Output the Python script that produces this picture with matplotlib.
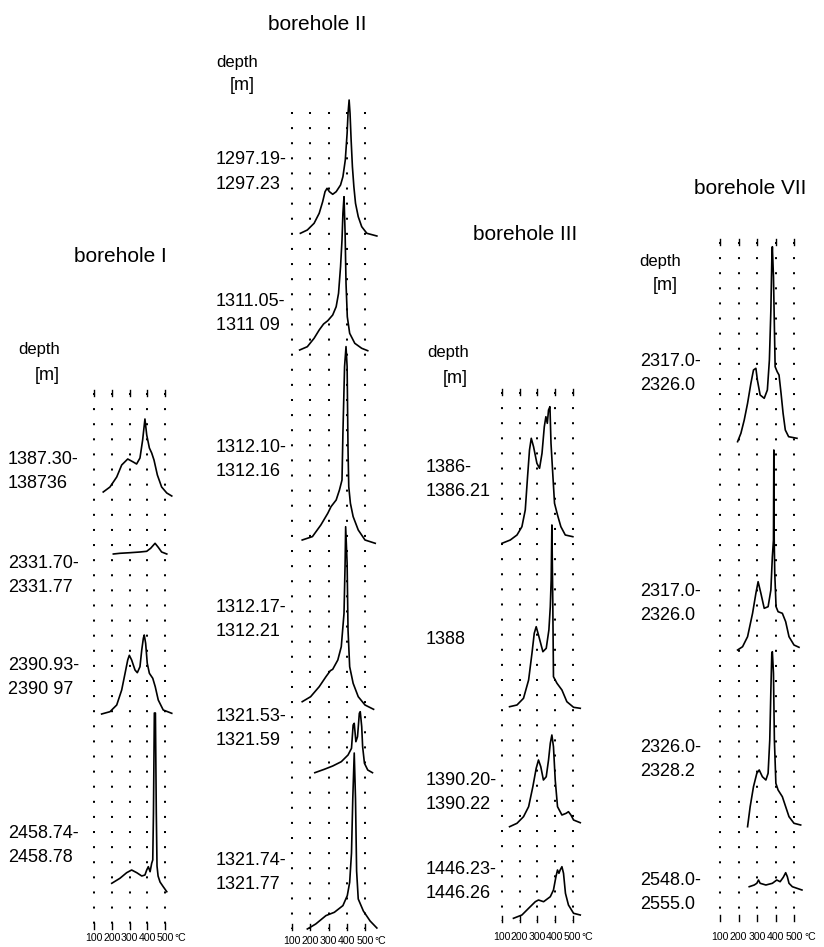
import matplotlib
matplotlib.use('Agg')
import matplotlib.pyplot as plt

W, H = 824, 947
fig = plt.figure(figsize=(W / 100, H / 100), dpi=100)

FONT = ['Liberation Sans', 'DejaVu Sans']
NARROW = ['Liberation Sans Narrow', 'Liberation Sans', 'DejaVu Sans']

# ---------------- data ----------------
grid_temps = [100, 200, 300, 400, 500]
tick_labels = ['100', '200', '300', '400', '500']
unit_label = '°C'
titles = ['borehole I', 'borehole II', 'borehole III', 'borehole VII']

# borehole I
I_depths = [('1387.30-', '138736'), ('2331.70-', '2331.77'),
            ('2390.93-', '2390 97'), ('2458.74-', '2458.78')]
I1_T = [152, 190, 228, 256, 290, 321, 340, 359, 374, 387, 397, 412, 425, 438, 457, 481, 510, 538]
I1_h = [4, 9, 19, 31, 37, 34, 32, 38, 56, 77, 61, 48, 43, 36, 21, 9, 3, 0]
I2_T = [209, 246, 303, 359, 397, 419, 444, 462, 481, 510]
I2_h = [0, 0.7, 1.3, 2, 2.7, 5.7, 10.7, 6.7, 2, 0]
I3_T = [143, 190, 228, 256, 275, 290, 299, 312, 331, 344, 359, 369, 378, 383, 391, 400, 412, 431, 445, 462, 490, 538]
I3_h = [0, 2.3, 9, 24, 40.7, 54, 58.7, 54, 44, 41.3, 47.3, 64, 75.7, 79, 70.7, 50.7, 40.7, 35.7, 27.3, 14, 4, 0.7]
I4_T = [200, 246, 284, 312, 341, 369, 387, 397, 406, 416, 425, 431, 435, 440, 446, 451, 455, 461, 472, 490, 510]
I4_h = [8.4, 13.4, 19, 21.7, 19, 15.7, 16.7, 21.7, 25, 20, 28.4, 31.7, 78.7, 178.7, 178.7, 78.7, 25.7, 15.7, 9.7, 5, 0]

# borehole II
II_depths = [('1297.19-', '1297.23'), ('1311.05-', '1311 09'), ('1312.10-', '1312.16'),
             ('1312.17-', '1312.21'), ('1321.53-', '1321.59'), ('1321.74-', '1321.77')]
II1_T = [146, 184, 221, 249, 268, 281, 292, 305, 323, 342, 366, 379, 392, 402, 407, 413, 418, 424, 431, 439, 448, 463, 482, 510, 565]
II1_h = [2.7, 6, 12.7, 22.7, 34.3, 44.3, 47.7, 44.3, 41.7, 44.3, 51, 59.3, 76, 102.7, 122.7, 136, 122.7, 96, 69.3, 49.3, 32.7, 19.3, 9.3, 2.7, 0]
II2_T = [142, 184, 221, 249, 273, 296, 323, 342, 355, 366, 374, 379, 385, 391, 396, 403, 416, 444, 482, 515]
II2_h = [1, 4.3, 12.7, 21, 27, 30.3, 36, 44.3, 57.7, 84.3, 111, 137.7, 154.3, 117.7, 67.7, 34.3, 17.7, 7.7, 2.7, 0.3]
II3_T = [156, 212, 258, 296, 314, 342, 360, 374, 379, 388, 396, 402, 407, 411, 420, 435, 463, 500, 556]
II3_h = [3.3, 6.7, 18.3, 30, 36.7, 43.3, 53.3, 63.3, 110, 176.7, 196.7, 176.7, 93.3, 56.6, 40, 26.7, 13.3, 3.3, 0]
II4_T = [156, 202, 249, 286, 310, 323, 351, 370, 385, 391, 394, 402, 407, 416, 435, 463, 500, 547]
II4_h = [7.6, 12.6, 22.6, 32.6, 38.6, 40, 49.3, 62.6, 96, 146, 182.6, 146, 79.3, 42.6, 26, 12.6, 4.3, 0]
II5_T = [225, 277, 323, 370, 407, 426, 435, 441, 450, 459, 469, 474, 482, 487, 497, 515, 541]
II5_h = [0, 3.4, 6.7, 11, 17.7, 24.4, 47.7, 49.4, 31, 36, 59.4, 61, 46, 26, 9.4, 2.7, 0]
II6_T = [184, 230, 286, 332, 379, 403, 416, 426, 433, 441, 448, 454, 463, 491, 528, 565]
II6_h = [0, 5, 13.4, 16.7, 23.4, 33.4, 46.7, 76, 130, 176, 130, 58, 30, 18, 8, 1]

# borehole III
III_depths = [('1386-', '1386.21'), ('1388', ''), ('1390.20-', '1390.22'), ('1446.23-', '1446.26')]
III1_T = [100, 147, 185, 213, 232, 245, 256, 266, 279, 298, 313, 327, 340, 349, 357, 364, 372, 378, 389, 398, 415, 434, 459, 502]
III1_h = [0, 3.3, 8.3, 16.6, 33.3, 66.6, 93.3, 105, 96.6, 80, 75, 90, 116.6, 126.6, 120, 133.3, 136.6, 100, 66.6, 40, 28.3, 16.6, 8.3, 6.6]
III2_T = [143, 185, 222, 251, 270, 283, 294, 307, 332, 351, 366, 374, 379, 383, 388, 392, 412, 440, 468, 506, 544]
III2_h = [1.6, 3.3, 10, 28.3, 55, 75, 81.6, 73.3, 56.6, 60, 78.3, 101.6, 128.3, 183.3, 108.3, 31.6, 25, 18.3, 6.6, 1, 0]
III3_T = [143, 185, 222, 251, 275, 294, 307, 320, 335, 351, 364, 374, 383, 392, 402, 415, 440, 464, 477, 491, 506, 544]
III3_h = [0, 3.4, 10, 20, 40, 58.4, 66.7, 60, 46.7, 50, 66.7, 83.4, 91.7, 80, 46.7, 20, 11.7, 13.4, 15, 11.7, 6.7, 4]
III4_T = [165, 213, 251, 289, 307, 336, 374, 392, 406, 415, 423, 430, 440, 449, 460, 477, 506, 544]
III4_h = [0, 3.3, 10, 16.6, 18.3, 16.6, 21.6, 28.3, 41.6, 48.3, 45, 48.3, 51.6, 45, 25, 13.3, 5, 3.3]

# borehole VII
VII_depths = [('2317.0-', '2326.0'), ('2317.0-', '2326.0'), ('2326.0-', '2328.2'), ('2548.0-', '2555.0')]
VII1_T = [195, 213, 231, 249, 267, 281, 294, 302, 317, 339, 356, 367, 375, 380, 383, 389, 394, 398, 409, 419, 430, 441, 453, 471, 516]
VII1_h = [0, 8.4, 21.7, 38.4, 58.4, 71.7, 73.4, 61.7, 46.7, 43.4, 51.7, 81.7, 131.7, 181.7, 195, 165, 115, 75, 70, 66.7, 48.4, 28.4, 11.7, 5, 3.4]
VII2_T = [195, 222, 249, 276, 294, 306, 321, 339, 360, 375, 383, 389, 391, 393, 396, 403, 414, 437, 455, 473, 500, 527]
VII2_h = [0, 3.3, 13.3, 36.7, 56.7, 68.3, 56.7, 41.7, 43.3, 60, 93.3, 110, 200, 110, 76.7, 43.3, 38.3, 36.7, 28.3, 13.3, 5, 2.7]
VII3_T = [249, 263, 281, 299, 312, 329, 348, 360, 369, 375, 380, 383, 389, 394, 402, 414, 437, 455, 473, 500, 536]
VII3_h = [0, 20, 40, 53.4, 56.7, 50, 46.7, 53.4, 86.7, 136.7, 173.4, 175, 153.4, 86.7, 43.4, 36.7, 30, 20, 10, 3.4, 1.7]
VII4_T = [258, 285, 299, 308, 317, 348, 383, 407, 425, 442, 455, 464, 473, 491, 516, 543]
VII4_h = [3.3, 5, 6.7, 10, 6.7, 5, 6.7, 10, 8.3, 12.7, 17.3, 13.3, 6.7, 3.3, 1.7, 0]

curves = [
    [(I1_T, I1_h), (I2_T, I2_h), (I3_T, I3_h), (I4_T, I4_h)],
    [(II1_T, II1_h), (II2_T, II2_h), (II3_T, II3_h), (II4_T, II4_h), (II5_T, II5_h), (II6_T, II6_h)],
    [(III1_T, III1_h), (III2_T, III2_h), (III3_T, III3_h), (III4_T, III4_h)],
    [(VII1_T, VII1_h), (VII2_T, VII2_h), (VII3_T, VII3_h), (VII4_T, VII4_h)],
]
depth_labels = [I_depths, II_depths, III_depths, VII_depths]

# ---------------- layout (pixels) ----------------
layout = [
    dict(px100=94, px500=165, top=393, bottom=928, tick_y=938, top_ticks=True,
         bases=[496, 554, 714, 891.7], label_x=8, label_y=[459, 563, 665, 833],
         title=(120, 257), depth=(39, 349), unit=(47, 376)),
    dict(px100=292, px500=365, top=112, bottom=929, tick_y=941, top_ticks=False,
         bases=[236, 351, 543.3, 709.3, 772.7, 929], label_x=216,
         label_y=[160, 302, 447, 608, 716, 860],
         title=(317, 24), depth=(237, 62), unit=(242, 86)),
    dict(px100=502, px500=572.5, top=392, bottom=921, tick_y=937, top_ticks=True,
         bases=[543.3, 708.3, 826.7, 918.3], label_x=426, label_y=[467, 640, 780, 869],
         title=(525, 234), depth=(448, 352), unit=(455, 378)),
    dict(px100=720, px500=794, top=242, bottom=920, tick_y=937, top_ticks=True,
         bases=[441.7, 650, 826.7, 890], label_x=640, label_y=[361, 591, 747, 880],
         title=(750, 189), depth=(660, 261), unit=(665, 285)),
]
line_gap = 24


def ftext(x, y, s, **kw):
    fig.text(x / W, 1 - y / H, s, **kw)


for b, lay in enumerate(layout):
    s = (lay['px500'] - lay['px100']) / 400.0
    left = lay['px100'] - 100 * s
    ax = fig.add_axes([left / W, 0, 700 * s / W, 1])
    ax.set_xlim(0, 700)
    ax.set_ylim(H, 0)
    ax.axis('off')

    # dotted temperature grid
    for T in grid_temps:
        ax.plot([T, T], [lay['top'], lay['bottom']], color='black', lw=1.45,
                linestyle=(0, (1, 6.5)), solid_capstyle='butt')
        ax.plot([T, T], [lay['bottom'] - 5, lay['bottom'] + 1], color='black', lw=1.0)
        if lay['top_ticks']:
            ax.plot([T, T], [lay['top'] - 3, lay['top'] + 3], color='black', lw=1.0)

    # tick labels
    for T, lab in zip(grid_temps, tick_labels):
        ax.text(T, lay['tick_y'], lab, ha='center', va='center', fontsize=7.6,
                family=NARROW, clip_on=False)
    ax.text(585, lay['tick_y'], unit_label, ha='center', va='center', fontsize=7.6,
            family=NARROW, clip_on=False)

    # curves
    for (Ts, hs), base in zip(curves[b], lay['bases']):
        ax.plot(Ts, [base - h for h in hs], color='black', lw=1.2,
                solid_joinstyle='round', clip_on=False)

    # texts
    ftext(*lay['title'], titles[b], ha='center', va='center', fontsize=15, family=FONT)
    ftext(*lay['depth'], 'depth', ha='center', va='center', fontsize=12, family=FONT)
    ftext(*lay['unit'], '[m]', ha='center', va='center', fontsize=13, family=FONT)
    for (l1, l2), y in zip(depth_labels[b], lay['label_y']):
        ftext(lay['label_x'], y, l1, ha='left', va='center', fontsize=13, family=FONT)
        if l2:
            ftext(lay['label_x'], y + line_gap, l2, ha='left', va='center', fontsize=13,
                  family=FONT)

fig.savefig('out.png', dpi=100)
